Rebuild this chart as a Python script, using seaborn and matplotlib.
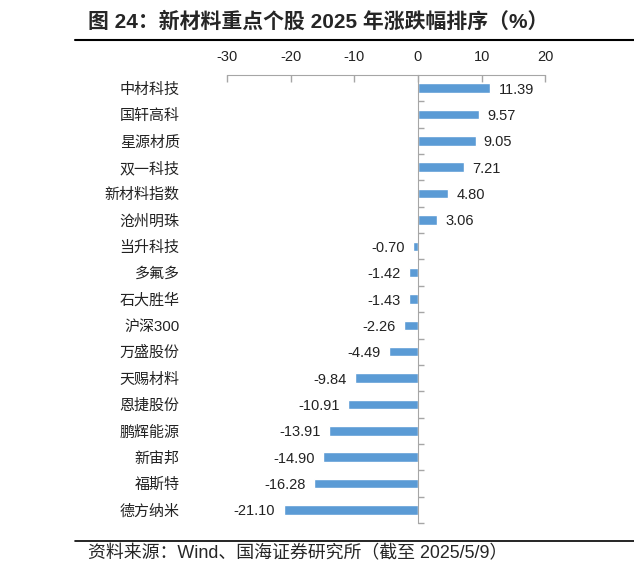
import matplotlib
matplotlib.use('Agg')
import matplotlib.pyplot as plt
import numpy as np
import pandas as pd
import seaborn as sns

names = ['中材科技', '国轩高科', '星源材质', '双一科技', '新材料指数', '沧州明珠',
         '当升科技', '多氟多', '石大胜华', '沪深300', '万盛股份', '天赐材料',
         '恩捷股份', '鹏辉能源', '新宙邦', '福斯特', '德方纳米']
changes = [11.39, 9.57, 9.05, 7.21, 4.80, 3.06, -0.70, -1.42, -1.43, -2.26,
           -4.49, -9.84, -10.91, -13.91, -14.90, -16.28, -21.10]
x_ticks = [-30, -20, -10, 0, 10, 20]

title = '图 24：新材料重点个股 2025 年涨跌幅排序（%）'
source = '资料来源：Wind、国海证券研究所（截至 2025/5/9）'

df = pd.DataFrame({'name': names, 'change': changes})

sns.set_style('white')
plt.rcParams['font.family'] = ['Liberation Sans', 'Noto Sans CJK SC']
plt.rcParams['axes.unicode_minus'] = False

fig = plt.figure(figsize=(6.34, 5.77), dpi=100)
ax = fig.add_axes([0.358, 0.0936, 0.502, 0.7764])

sns.barplot(data=df, x='change', y='name', color='#5B9BD5', width=0.36,
            saturation=1, ax=ax)

ax.set_xlim(-30, 20)
ax.set_ylim(len(names) - 0.5, -0.5)
ax.set_xlabel('')
ax.set_ylabel('')

# x axis on top, ticks pointing down
ax.xaxis.tick_top()
ax.set_xticks(x_ticks)
ax.set_xticklabels([str(t) for t in x_ticks])
ax.tick_params(axis='x', which='major', direction='in', length=5, width=1,
               color='#A6A6A6', labelsize=10.5, pad=8, labelcolor='#222222')

# zero line = right spine moved to x=0, with ticks between categories
for s in ['left', 'bottom']:
    ax.spines[s].set_visible(False)
ax.spines['top'].set_color('#A6A6A6')
ax.spines['right'].set_color('#A6A6A6')
ax.spines['right'].set_position(('data', 0))
ax.set_yticks(np.arange(0.5, len(names) + 0.5, 1.0), minor=True)
ax.tick_params(axis='y', which='major', left=False, right=False, length=0,
               labelsize=10.8, pad=34, labelcolor='#222222')
ax.tick_params(axis='y', which='minor', left=False, right=True, direction='out',
               length=4, width=1, color='#A6A6A6')

for i, v in enumerate(changes):
    if v >= 0:
        ax.annotate(f'{v:.2f}', (v, i), xytext=(6, 0), textcoords='offset points',
                    ha='left', va='center_baseline', fontsize=10.5,
                    color='#222222', family='Liberation Sans')
    else:
        ax.annotate(f'{v:.2f}', (v, i), xytext=(-6, 0), textcoords='offset points',
                    ha='right', va='center_baseline', fontsize=10.5,
                    color='#222222', family='Liberation Sans')

# title, source and rules
fig.text(88 / 634, 1 - 22 / 577, title, fontsize=15, fontweight='bold',
         ha='left', va='center', family=['Liberation Sans', 'Noto Sans CJK SC'])
fig.add_artist(plt.Line2D([75 / 634, 1.0], [1 - 40 / 577, 1 - 40 / 577],
                          color='black', lw=1.5))
fig.add_artist(plt.Line2D([75 / 634, 1.0], [1 - 541 / 577, 1 - 541 / 577],
                          color='black', lw=1.2))
fig.text(88 / 634, 1 - 554 / 577, source, fontsize=12.9, ha='left', va='center',
         family=['Liberation Sans', 'Noto Sans CJK SC'])

fig.savefig('out.png', dpi=100)
